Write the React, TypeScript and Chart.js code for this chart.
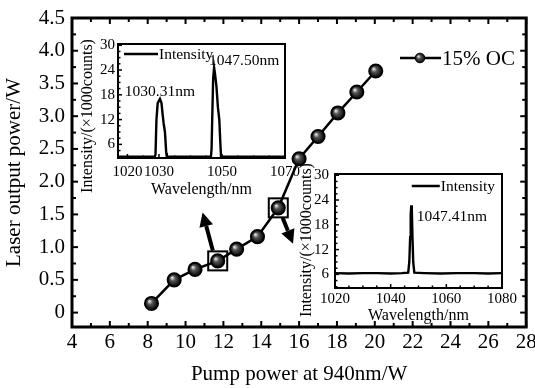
import React, { useEffect, useRef } from "react";
import { Chart, registerables } from "chart.js";
Chart.register(...registerables);

// ---------- data ----------
const pumpPower = [8.2, 9.4, 10.5, 11.7, 12.7, 13.8, 14.9, 16.0, 17.0, 18.05, 19.05, 20.05];
const outputPower = [0.14, 0.5, 0.66, 0.79, 0.97, 1.16, 1.6, 2.35, 2.69, 3.05, 3.37, 3.69];
const seriesLabel = "15% OC";
const xTicksMain = [4, 6, 8, 10, 12, 14, 16, 18, 20, 22, 24, 26, 28];
const yTicksMain = [0, 0.5, 1.0, 1.5, 2.0, 2.5, 3.0, 3.5, 4.0, 4.5];
const boxedPointIndex = [3, 6];
const arrowFrom = [[11.44, 0.95], [15.13, 1.45]];
const arrowTo = [[10.9, 1.53], [15.68, 1.05]];

const specAWavelength = [1017, 1020, 1028.6, 1028.9, 1029.2, 1029.6, 1030.31, 1030.8, 1031.2, 1031.5, 1031.9, 1032.3, 1032.5, 1040, 1046.5, 1046.7, 1046.9, 1047.2, 1047.5, 1047.8, 1048.25, 1048.7, 1049.15, 1049.5, 1049.7, 1060, 1070];
const specAIntensity = [3.0, 3.0, 3.0, 3.5, 12.0, 16.0, 17.0, 16.0, 13.0, 11.0, 9.0, 4.0, 3.0, 3.0, 3.0, 5.0, 12.0, 22.0, 24.6, 23.0, 20.0, 15.0, 12.0, 6.0, 3.0, 3.0, 3.0];
const specATicksX = [1020, 1030, 1050, 1070];
const specAPeakLabels = ["1030.31nm", "1047.50nm"];
const specAPeakLabelPos = [[1030.31, 18.6, "center"], [1045.9, 26.2, "left"]];

const specBWavelength = [1020, 1025, 1030, 1035, 1040, 1044, 1046.3, 1046.7, 1047.0, 1047.2, 1047.41, 1047.6, 1047.8, 1048.1, 1048.5, 1052, 1058, 1064, 1070, 1075, 1080];
const specBIntensity = [6.3, 6.2, 6.3, 6.3, 6.2, 6.3, 6.4, 9.0, 15.0, 20.5, 22.7, 21.5, 16.0, 9.0, 6.4, 6.3, 6.2, 6.3, 6.3, 6.2, 6.3];
const specBTicksX = [1020, 1040, 1060, 1080];
const specBPeakLabels = ["1047.41nm"];
const specBPeakLabelPos = [[1049.4, 19.8, "left"]];

const intensityTicks = [6, 12, 18, 24, 30];
const spectrumLabel = "Intensity";
const FONT = "'Liberation Serif', 'Times New Roman', serif";

function drawBall(ctx: CanvasRenderingContext2D, x: number, y: number, r: number) {
  const g = ctx.createRadialGradient(x - r * 0.35, y - r * 0.35, r * 0.1, x, y, r);
  g.addColorStop(0, "#d8d8d8");
  g.addColorStop(0.35, "#555");
  g.addColorStop(1, "#050505");
  ctx.beginPath();
  ctx.arc(x, y, r, 0, Math.PI * 2);
  ctx.fillStyle = g;
  ctx.fill();
  ctx.lineWidth = 1;
  ctx.strokeStyle = "#000";
  ctx.stroke();
}

function seg(ctx: CanvasRenderingContext2D, x1: number, y1: number, x2: number, y2: number) {
  ctx.beginPath();
  ctx.moveTo(x1, y1);
  ctx.lineTo(x2, y2);
  ctx.stroke();
}

const mainDecor = {
  id: "mainDecor",
  afterDatasetsDraw(chart: any) {
    const { ctx } = chart;
    const meta = chart.getDatasetMeta(0);
    const xs = chart.scales.x, ys = chart.scales.y;
    ctx.save();
    meta.data.forEach((p: any) => drawBall(ctx, p.x, p.y, 6.3));
    ctx.strokeStyle = "#000";
    ctx.lineWidth = 2;
    boxedPointIndex.forEach((i) => {
      const p = meta.data[i];
      ctx.strokeRect(p.x - 9.5, p.y - 9.5, 19, 19);
    });
    arrowFrom.forEach((f, i) => {
      const t = arrowTo[i];
      const x1 = xs.getPixelForValue(f[0]), y1 = ys.getPixelForValue(f[1]);
      const x2 = xs.getPixelForValue(t[0]), y2 = ys.getPixelForValue(t[1]);
      const ang = Math.atan2(y2 - y1, x2 - x1);
      const hl = 14, hw = 7;
      const bx = x2 - hl * Math.cos(ang), by = y2 - hl * Math.sin(ang);
      ctx.lineWidth = 4;
      seg(ctx, x1, y1, bx, by);
      ctx.beginPath();
      ctx.moveTo(x2, y2);
      ctx.lineTo(bx + hw * Math.sin(ang), by - hw * Math.cos(ang));
      ctx.lineTo(bx - hw * Math.sin(ang), by + hw * Math.cos(ang));
      ctx.closePath();
      ctx.fillStyle = "#000";
      ctx.fill();
    });
    ctx.restore();
  },
  afterDraw(chart: any) {
    const { ctx, chartArea: a } = chart;
    const xs = chart.scales.x, ys = chart.scales.y;
    ctx.save();
    ctx.strokeStyle = "#000";
    ctx.lineWidth = 2;
    const xt: number[] = [];
    xTicksMain.forEach((v, i) => {
      xt.push(v);
      if (i < xTicksMain.length - 1) xt.push((v + xTicksMain[i + 1]) / 2);
    });
    xt.forEach((v, i) => {
      const px = xs.getPixelForValue(v);
      const len = i % 2 === 0 ? 6 : 4;
      seg(ctx, px, a.bottom, px, a.bottom - len);
      seg(ctx, px, a.top, px, a.top + len);
    });
    const yt: number[] = [];
    yTicksMain.forEach((v, i) => {
      yt.push(v);
      if (i < yTicksMain.length - 1) yt.push((v + yTicksMain[i + 1]) / 2);
    });
    yt.forEach((v, i) => {
      const py = ys.getPixelForValue(v);
      const len = i % 2 === 0 ? 6 : 4;
      seg(ctx, a.left, py, a.left + len, py);
      seg(ctx, a.right, py, a.right - len, py);
    });
    ctx.lineWidth = 3;
    ctx.strokeRect(a.left, a.top, a.right - a.left, a.bottom - a.top);
    const ly = 58;
    ctx.lineWidth = 2.5;
    seg(ctx, 400, ly, 441, ly);
    drawBall(ctx, 420, ly, 4.8);
    ctx.fillStyle = "#000";
    ctx.font = `21px ${FONT}`;
    ctx.textAlign = "left";
    ctx.textBaseline = "middle";
    ctx.fillText(seriesLabel, 442, ly + 1);
    ctx.restore();
  },
};

const insetDecor = {
  id: "insetDecor",
  beforeDatasetsDraw(chart: any) {
    const { ctx, chartArea: a } = chart;
    ctx.save();
    ctx.fillStyle = "#fff";
    ctx.fillRect(a.left, a.top, a.right - a.left, a.bottom - a.top);
    ctx.restore();
  },
  afterDraw(chart: any, _args: any, opts: any) {
    const { ctx, chartArea: a } = chart;
    const xs = chart.scales.x, ys = chart.scales.y;
    ctx.save();
    ctx.strokeStyle = "#000";
    ctx.fillStyle = "#000";
    ctx.lineWidth = 1.5;
    for (let v = opts.xMinorStart; v <= xs.max + 0.001; v += opts.xMinorStep) {
      const px = xs.getPixelForValue(v);
      const major = opts.xTicks.includes(v);
      seg(ctx, px, a.bottom, px, a.bottom - (major ? 4 : 2.5));
    }
    for (let v = 3; v <= ys.max + 0.001; v += 1.5) {
      const py = ys.getPixelForValue(v);
      const major = intensityTicks.includes(v);
      seg(ctx, a.left, py, a.left + (major ? 4 : 2.5), py);
    }
    ctx.lineWidth = 2;
    ctx.strokeRect(a.left, a.top, a.right - a.left, a.bottom - a.top);
    ctx.font = `15.5px ${FONT}`;
    ctx.textBaseline = "middle";
    const tw = ctx.measureText(spectrumLabel).width;
    const tx = opts.legendRight ? a.right - opts.legendRight - tw : a.left + opts.legendLeft;
    const ly = a.top + opts.legendDy;
    ctx.lineWidth = 2.5;
    seg(ctx, tx - opts.legendLine - 1, ly, tx - 1, ly);
    ctx.textAlign = "left";
    ctx.fillText(spectrumLabel, tx, ly + 1);
    ctx.font = `15.5px ${FONT}`;
    opts.peaks.forEach((t: string, i: number) => {
      const p = opts.peakPos[i];
      ctx.textAlign = p[2];
      ctx.fillText(t, xs.getPixelForValue(p[0]), ys.getPixelForValue(p[1]));
    });
    ctx.font = `16px ${FONT}`;
    ctx.translate(a.left + opts.yTitleDx, (a.top + a.bottom) / 2 + opts.yTitleDy);
    ctx.rotate(-Math.PI / 2);
    ctx.textAlign = "center";
    ctx.fillText("Intensity/(×1000counts)", 0, 0);
    ctx.restore();
  },
};

function makeInset(
  canvas: HTMLCanvasElement,
  xs: number[], ys: number[], xMin: number, xMax: number, xTicks: number[],
  layout: any, decor: any
) {
  return new Chart(canvas, {
    type: "line",
    data: {
      datasets: [{
        data: xs.map((x, i) => ({ x, y: ys[i] })),
        borderColor: "#000",
        borderWidth: 2.4,
        pointRadius: 0,
        tension: 0,
      }],
    },
    options: {
      animation: false,
      responsive: false,
      layout: { padding: { top: layout.top, right: layout.right, left: 0, bottom: 0 } },
      plugins: { legend: { display: false }, tooltip: { enabled: false }, insetDecor: decor } as any,
      scales: {
        x: {
          type: "linear", min: xMin, max: xMax,
          afterBuildTicks: (s: any) => { s.ticks = xTicks.map((v) => ({ value: v })); },
          grid: { display: false, drawTicks: false }, border: { display: false },
          ticks: { padding: layout.xTickPad, color: "#000", font: { family: FONT, size: 15 }, callback: (v: any) => String(v), maxRotation: 0, autoSkip: false },
          title: { display: true, text: "Wavelength/nm", color: "#000", font: { family: FONT, size: 16 }, padding: { top: 0, bottom: layout.xTitlePad } },
          afterFit: (s: any) => { s.height = layout.xHeight; s.paddingLeft = 0; s.paddingRight = 0; },
        },
        y: {
          type: "linear", min: 2.7, max: 30.3,
          afterBuildTicks: (s: any) => { s.ticks = intensityTicks.map((v) => ({ value: v })); },
          grid: { display: false, drawTicks: false }, border: { display: false },
          ticks: { padding: layout.yTickPad, color: "#000", font: { family: FONT, size: 15 } },
          afterFit: (s: any) => { s.width = layout.yWidth; s.paddingTop = 0; s.paddingBottom = 0; },
        },
      },
    } as any,
    plugins: [insetDecor],
  });
}

export default function App() {
  const mainRef = useRef<HTMLCanvasElement>(null);
  const inARef = useRef<HTMLCanvasElement>(null);
  const inBRef = useRef<HTMLCanvasElement>(null);

  useEffect(() => {
    const font = { family: FONT, size: 21 };
    const main = new Chart(mainRef.current!, {
      type: "line",
      data: {
        datasets: [{
          label: seriesLabel,
          data: pumpPower.map((x, i) => ({ x, y: outputPower[i] })),
          borderColor: "#000",
          borderWidth: 2.5,
          pointRadius: 6.3,
          pointBackgroundColor: "#222",
          pointBorderColor: "#000",
          tension: 0,
        }],
      },
      options: {
        animation: false,
        responsive: false,
        layout: { padding: { top: 18, right: 8, left: 0, bottom: 0 } },
        plugins: { legend: { display: false }, tooltip: { enabled: false } },
        scales: {
          x: {
            type: "linear", min: 4, max: 28,
            afterBuildTicks: (s: any) => { s.ticks = xTicksMain.map((v) => ({ value: v })); },
            grid: { display: false, drawTicks: false }, border: { display: false },
            ticks: { padding: 3, color: "#000", font, callback: (v: any) => String(v), maxRotation: 0, autoSkip: false },
            title: { display: true, text: "Pump power at 940nm/W", color: "#000", font, padding: { top: 0, bottom: 1 } },
            afterFit: (s: any) => { s.height = 61; s.paddingLeft = 0; s.paddingRight = 0; },
          },
          y: {
            type: "linear", min: -0.22, max: 4.5,
            afterBuildTicks: (s: any) => { s.ticks = yTicksMain.map((v) => ({ value: v })); },
            grid: { display: false, drawTicks: false }, border: { display: false },
            ticks: { padding: 7, color: "#000", font, callback: (v: any) => (v === 0 ? "0" : Number(v).toFixed(1)) },
            title: { display: true, text: "Laser output power/W", color: "#000", font, padding: { top: 2, bottom: 0 } },
            afterFit: (s: any) => { s.width = 72; s.paddingTop = 0; s.paddingBottom = 0; },
          },
        },
      } as any,
      plugins: [mainDecor],
    });

    const inA = makeInset(inARef.current!, specAWavelength, specAIntensity, 1017, 1070, specATicksX,
      { top: 14, right: 30, xHeight: 42, yWidth: 38, xTickPad: 5, xTitlePad: 1, yTickPad: 3 },
      { xTicks: specATicksX, xMinorStart: 1020, xMinorStep: 5, legendLeft: 41, legendRight: 0, legendDy: 10, legendLine: 34,
        peaks: specAPeakLabels, peakPos: specAPeakLabelPos, yTitleDx: -30, yTitleDy: 15 });
    const inB = makeInset(inBRef.current!, specBWavelength, specBIntensity, 1020, 1080, specBTicksX,
      { top: 14, right: 31, xHeight: 40, yWidth: 37, xTickPad: 2, xTitlePad: 3, yTickPad: 6 },
      { xTicks: specBTicksX, xMinorStart: 1020, xMinorStep: 5, legendLeft: 0, legendRight: 7, legendDy: 12, legendLine: 28,
        peaks: specBPeakLabels, peakPos: specBPeakLabelPos, yTitleDx: -28, yTitleDy: 9 });

    return () => { main.destroy(); inA.destroy(); inB.destroy(); };
  }, []);

  return (
    <div style={{ position: "absolute", left: 0, top: 0, width: 535, height: 388, background: "#fff" }}>
      <canvas ref={mainRef} width={535} height={388} style={{ position: "absolute", left: 0, top: 0, width: 535, height: 388 }} />
      <canvas ref={inARef} width={235} height={170} style={{ position: "absolute", left: 80, top: 30, width: 235, height: 170 }} />
      <canvas ref={inBRef} width={235} height={168} style={{ position: "absolute", left: 298, top: 160, width: 235, height: 168 }} />
    </div>
  );
}
